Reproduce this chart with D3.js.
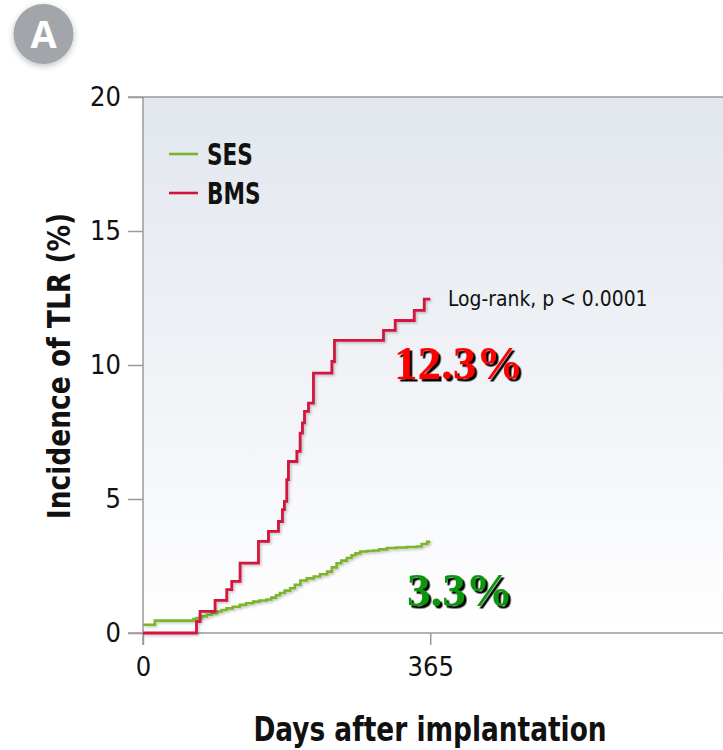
<!DOCTYPE html>
<html>
<head>
<meta charset="utf-8">
<script src="https://cdn.jsdelivr.net/npm/d3@7"></script>
<style>
  html, body { margin: 0; padding: 0; background: #ffffff; }
  svg { display: block; }
</style>
</head>
<body>
<svg id="chart" width="723" height="750"></svg>
<script>
// ---- data ----
const sesDays   = [0, 15, 60, 64, 68, 74, 81, 87, 94, 100, 106, 114, 123, 131, 140, 148, 157, 163, 169, 174, 180, 187, 193, 200, 208, 217, 225, 234, 240, 246, 252, 259, 265, 270, 276, 285, 293, 300, 310, 322, 335, 348, 354, 361, 365];
const sesValues = [0.31, 0.46, 0.46, 0.52, 0.56, 0.62, 0.68, 0.74, 0.80, 0.86, 0.92, 0.98, 1.05, 1.11, 1.17, 1.21, 1.25, 1.32, 1.41, 1.49, 1.58, 1.67, 1.80, 1.96, 2.04, 2.11, 2.19, 2.29, 2.45, 2.60, 2.70, 2.80, 2.90, 2.97, 3.04, 3.06, 3.08, 3.12, 3.17, 3.19, 3.21, 3.23, 3.32, 3.40, 3.40];
const bmsDays   = [0, 68, 72.5, 91.6, 106.4, 112.8, 123.4, 146.7, 159.4, 172.1, 177.2, 179.7, 182.7, 184.8, 195.5, 199.7, 202.6, 205.2, 210.3, 216.6, 240, 243.3, 305.6, 320.5, 344.7, 357.4, 365];
const bmsValues = [0, 0.43, 0.81, 1.22, 1.62, 1.93, 2.61, 3.42, 3.79, 4.16, 4.60, 4.91, 5.72, 6.40, 6.78, 7.46, 7.84, 8.27, 8.58, 9.70, 10.13, 10.92, 11.29, 11.66, 12.04, 12.46, 12.46];
const seriesNames = ["SES", "BMS"];
const yTicks = [0, 5, 10, 15, 20];
const xTicks = [0, 365];
const finalLabels = ["3.3%", "12.3%"];
const annotation = "Log-rank, p < 0.0001";
const xTitle = "Days after implantation";
const yTitle = "Incidence of TLR (%)";
const panelLetter = "A";

// ---- layout ----
const svg = d3.select("#chart");
const pLeft = 143, pRight = 723, pTop = 97, pBottom = 633;
const x = d3.scaleLinear().domain([0, 737]).range([pLeft, pRight]);
const y = d3.scaleLinear().domain([0, 20]).range([pBottom, pTop]);
const sansFont = "'DejaVu Sans Condensed', 'DejaVu Sans', sans-serif";

const defs = svg.append("defs");
const grad = defs.append("linearGradient").attr("id", "bg").attr("x1", 0).attr("y1", 0).attr("x2", 0).attr("y2", 1);
grad.append("stop").attr("offset", "0%").attr("stop-color", "#e2e7ee");
grad.append("stop").attr("offset", "55%").attr("stop-color", "#f1f3f7");
grad.append("stop").attr("offset", "100%").attr("stop-color", "#ffffff");

const shadow = defs.append("filter").attr("id", "lineShadow").attr("x", "-10%").attr("y", "-10%").attr("width", "130%").attr("height", "130%");
shadow.append("feDropShadow").attr("dx", 1.5).attr("dy", 1.5).attr("stdDeviation", 1).attr("flood-color", "#000").attr("flood-opacity", 0.22);

const badgeShadow = defs.append("filter").attr("id", "badgeShadow").attr("x", "-30%").attr("y", "-30%").attr("width", "160%").attr("height", "160%");
badgeShadow.append("feDropShadow").attr("dx", 0).attr("dy", 2).attr("stdDeviation", 3).attr("flood-color", "#000").attr("flood-opacity", 0.25);

const textShadow = defs.append("filter").attr("id", "textShadow").attr("x", "-10%").attr("y", "-10%").attr("width", "130%").attr("height", "130%");
textShadow.append("feDropShadow").attr("dx", 2.5).attr("dy", 2.5).attr("stdDeviation", 0.4).attr("flood-color", "#000").attr("flood-opacity", 1);

// condensed-looking text helper
function condText(txt, tx, ty, size, weight, sx, anchor, rot) {
  return svg.append("text")
    .attr("transform", `translate(${tx},${ty}) rotate(${rot || 0}) scale(${sx},1)`)
    .attr("font-family", sansFont).attr("font-size", size).attr("font-weight", weight)
    .attr("text-anchor", anchor || "start").attr("fill", "#111").text(txt);
}

// plot background
svg.append("rect").attr("x", pLeft).attr("y", pTop).attr("width", pRight - pLeft).attr("height", pBottom - pTop).attr("fill", "url(#bg)");

// badge
svg.append("circle").attr("cx", 43.5).attr("cy", 34).attr("r", 30).attr("fill", "#a2a6aa").attr("filter", "url(#badgeShadow)");
svg.append("text").attr("x", 43.5).attr("y", 48).attr("text-anchor", "middle")
  .attr("font-family", "'Open Sans', 'DejaVu Sans', sans-serif").attr("font-weight", "bold").attr("font-size", 38)
  .attr("fill", "#ffffff").text(panelLetter);

// axes
const axisColor = "#9a9a9a";
const yAxis = svg.append("g").attr("transform", `translate(${pLeft},0)`)
  .call(d3.axisLeft(y).tickValues(yTicks).tickSize(15).tickSizeOuter(0).tickPadding(7).tickFormat(d3.format("d")));
const xAxis = svg.append("g").attr("transform", `translate(0,${pBottom})`)
  .call(d3.axisBottom(x).tickValues(xTicks).tickSize(12).tickSizeOuter(0).tickPadding(12).tickFormat(d3.format("d")));
[yAxis, xAxis].forEach(g => {
  g.select(".domain").remove();
  g.selectAll(".tick line").attr("stroke", axisColor).attr("stroke-width", 1.5);
  g.selectAll(".tick text").attr("font-family", sansFont).attr("font-size", 27).attr("fill", "#111");
});
// frame lines
svg.append("line").attr("x1", pLeft).attr("x2", pLeft).attr("y1", pTop).attr("y2", pBottom + 12).attr("stroke", axisColor).attr("stroke-width", 1.5);
svg.append("line").attr("x1", pLeft - 15).attr("x2", pRight).attr("y1", pBottom).attr("y2", pBottom).attr("stroke", axisColor).attr("stroke-width", 1.5);
svg.append("line").attr("x1", pLeft - 15).attr("x2", pRight).attr("y1", pTop).attr("y2", pTop).attr("stroke", axisColor).attr("stroke-width", 1.5);

// curves
const line = d3.line().x(d => x(d[0])).y(d => y(d[1])).curve(d3.curveStepAfter);
const ses = sesDays.map((d, i) => [d, sesValues[i]]);
const bms = bmsDays.map((d, i) => [d, bmsValues[i]]);
const colors = { SES: "#7db52a", BMS: "#d2143c" };
svg.append("path").datum(ses).attr("d", line).attr("fill", "none").attr("stroke", colors.SES).attr("stroke-width", 2.6).attr("filter", "url(#lineShadow)");
svg.append("path").datum(bms).attr("d", line).attr("fill", "none").attr("stroke", colors.BMS).attr("stroke-width", 2.8).attr("filter", "url(#lineShadow)");

// legend
seriesNames.forEach((name, i) => {
  const ly = 154 + i * 39;
  svg.append("line").attr("x1", 169).attr("x2", 198).attr("y1", ly).attr("y2", ly).attr("stroke", colors[name]).attr("stroke-width", 2.6);
  condText(name, 207, ly + 11, 30, "bold", 0.8);
});

// annotation
condText(annotation, 448, 306, 22, "normal", 0.95);

// final percentages with shadow
function shadowText(txt, tx, ty, fill) {
  svg.append("text").attr("x", tx).attr("y", ty)
    .attr("font-family", "'Liberation Serif', 'Times New Roman', serif").attr("font-weight", "bold").attr("font-size", 47)
    .attr("fill", fill).attr("filter", "url(#textShadow)").text(txt);
}
shadowText(finalLabels[1], 394, 379, "#ff0000");
shadowText(finalLabels[0], 407, 606, "#0a960a");

// axis titles
condText(xTitle, 430, 741, 33, "bold", 0.89, "middle");
condText(yTitle, 70, 366, 32, "bold", 0.92, "middle", -90);
</script>
</body>
</html>
